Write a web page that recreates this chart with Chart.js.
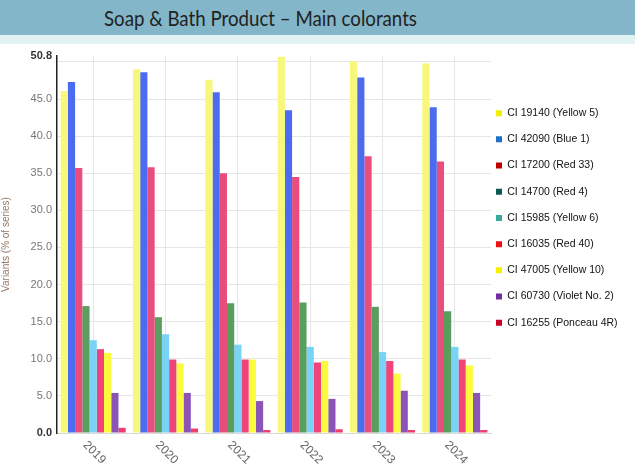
<!DOCTYPE html>
<html>
<head>
<meta charset="utf-8">
<script src="https://cdn.jsdelivr.net/npm/chart.js@4.4.1/dist/chart.umd.min.js"></script>
<style>
  html, body { margin: 0; padding: 0; background: #ffffff; }
  #wrap { position: relative; width: 635px; height: 466px; overflow: hidden; background: #fff; }
  #band { position: absolute; left: 0; top: 0; width: 635px; height: 35px; background: #82b6c8; }
  #title { position: absolute; left: 0; top: 0; width: 635px; height: 35px;
          font-family: Lato, "Open Sans", sans-serif; font-size: 22px; color: #222;
          text-align: center; line-height: 35px; white-space: nowrap;
          transform: translateX(-57px) scaleX(0.85); }
  #strip { position: absolute; left: 0; top: 35px; width: 635px; height: 9px; background: #e0f2f2; }
  #box { position: absolute; left: 0; top: 44px; width: 635px; height: 422px; }
</style>
</head>
<body>
<div id="wrap">
  <div id="band"></div>
  <div id="title">Soap &amp; Bath Product – Main colorants</div>
  <div id="strip"></div>
  <div id="box"><canvas id="c" width="635" height="422"></canvas></div>
</div>
<script>
const years = ['2019', '2020', '2021', '2022', '2023', '2024'];
const seriesNames = ['CI 19140 (Yellow 5)', 'CI 42090 (Blue 1)', 'CI 17200 (Red 33)', 'CI 14700 (Red 4)',
  'CI 15985 (Yellow 6)', 'CI 16035 (Red 40)', 'CI 47005 (Yellow 10)', 'CI 60730 (Violet No. 2)', 'CI 16255 (Ponceau 4R)'];
const yellow5  = [46.1, 49.0, 47.6, 50.7, 50.1, 49.8];
const blue1    = [47.3, 48.6, 45.9, 43.5, 47.9, 43.9];
const red33    = [35.7, 35.8, 35.0, 34.5, 37.3, 36.6];
const red4     = [17.1, 15.6, 17.5, 17.6, 17.0, 16.4];
const yellow6  = [12.5, 13.3, 11.9, 11.6, 10.9, 11.6];
const red40    = [11.3, 9.9, 9.9, 9.5, 9.7, 9.9];
const yellow10 = [10.8, 9.4, 9.9, 9.7, 8.0, 9.1];
const violet2  = [5.4, 5.4, 4.3, 4.6, 5.7, 5.4];
const ponceau  = [0.7, 0.6, 0.4, 0.5, 0.4, 0.4];
const yTicks   = [0, 5, 10, 15, 20, 25, 30, 35, 40, 45, 50, 50.8];
const yMax = 50.8;

const seriesValues = [yellow5, blue1, red33, red4, yellow6, red40, yellow10, violet2, ponceau];
const barColors = ['#f7f77c', '#4b6cf0', '#e84d7b', '#5a9e5f', '#78d3f7', '#f0437a', '#fafa3f', '#8a55b6', '#ef3d6c'];
const legendColors = ['#f2ee00', '#1f6fc5', '#c00000', '#0a5a4c', '#3aa6a0', '#f01010', '#f7f000', '#7030a0', '#cc0020'];

const xLabelPlugin = {
  id: 'xLabels',
  afterLayout(chart) {
    // nudge the legend box a little to the left, over the chart's right margin
    const lg = chart.legend;
    if (lg) { lg.left -= 10.7; lg.right -= 10.7; }
  },
  afterDraw(chart) {
    const ctx = chart.ctx;
    const xs = chart.scales.x;
    const ys = chart.scales.y;
    ctx.save();
    ctx.font = '12px "Liberation Sans", Arial, sans-serif';
    ctx.fillStyle = '#666';
    ctx.textAlign = 'left';
    ctx.textBaseline = 'top';
    years.forEach((lab, i) => {
      const px = xs.getPixelForTick(i);
      ctx.save();
      ctx.translate(px - 4, ys.bottom + 6);
      ctx.rotate(Math.PI / 4);
      ctx.fillText(lab, 0, 0);
      ctx.restore();
    });
    ctx.restore();
  }
};

new Chart(document.getElementById('c'), {
  type: 'bar',
  data: {
    labels: years,
    datasets: seriesValues.map((vals, i) => ({
      label: seriesNames[i],
      data: vals,
      backgroundColor: barColors[i],
      borderWidth: 0,
      categoryPercentage: 0.9,
      barPercentage: 1.0
    }))
  },
  options: {
    responsive: false,
    animation: false,
    devicePixelRatio: 1,
    layout: { padding: { top: 12, right: 0, bottom: 33, left: 0 } },
    plugins: {
      title: { display: false },
      tooltip: { enabled: false },
      legend: {
        position: 'right',
        align: 'start',
        maxWidth: 144,
        title: { display: true, text: ' ', font: { size: 1 }, padding: { top: 35, bottom: 0 } },
        labels: {
          boxWidth: 6,
          boxHeight: 6,
          padding: 15.7,
          color: '#111',
          font: { family: '"Liberation Sans", Arial, sans-serif', size: 10.5 },
          generateLabels(chart) {
            return chart.data.datasets.map((ds, i) => ({
              text: ds.label,
              fillStyle: legendColors[i],
              strokeStyle: legendColors[i],
              lineWidth: 0,
              hidden: false,
              datasetIndex: i,
              fontColor: '#111'
            }));
          }
        }
      }
    },
    scales: {
      x: {
        grid: { display: true, offset: false, color: '#e6e6e6', drawTicks: false },
        border: { display: true, color: '#d8d8d8', width: 1 },
        ticks: { display: false }
      },
      y: {
        min: 0,
        max: yMax,
        afterBuildTicks(scale) { scale.ticks = yTicks.map(v => ({ value: v })); },
        afterFit(scale) { scale.width = 57; },
        grid: {
          drawTicks: false,
          color: ctx => (ctx.tick && ctx.tick.value === yMax) ? 'rgba(0,0,0,0)' : '#e6e6e6'
        },
        border: { display: true, color: '#222', width: 1.5 },
        ticks: {
          padding: 5,
          color: ctx => (ctx.tick && (ctx.tick.value === yMax || ctx.tick.value === 0)) ? '#333' : '#777',
          font: ctx => ({
            family: '"Liberation Sans", Arial, sans-serif',
            size: 11,
            weight: (ctx.tick && (ctx.tick.value === yMax || ctx.tick.value === 0)) ? 'bold' : 'normal'
          }),
          callback: (v) => v === 50 ? '' : Number(v).toFixed(1)
        },
        title: {
          display: true,
          text: 'Variants (% of series)',
          color: '#967763',
          font: { family: '"Liberation Sans", Arial, sans-serif', size: 10 },
          padding: { top: 0, bottom: 4 }
        }
      }
    }
  },
  plugins: [xLabelPlugin]
});
</script>
</body>
</html>
